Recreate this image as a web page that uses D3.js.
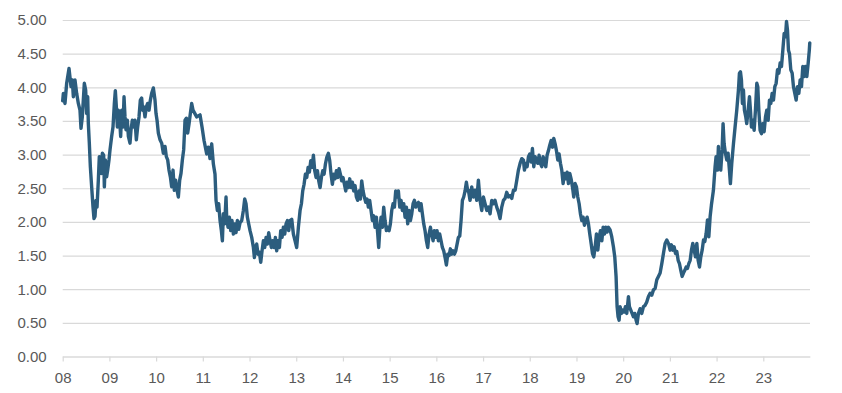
<!DOCTYPE html>
<html>
<head>
<meta charset="utf-8">
<script src="https://cdn.jsdelivr.net/npm/d3@7"></script>
<style>
  html, body { margin: 0; padding: 0; background: #ffffff; }
  svg { display: block; }
  text { font-family: "Liberation Sans", Arial, sans-serif; }
</style>
</head>
<body>
<div id="chart"></div>
<script>
// ---- data ----
const xTickYears = [2008, 2009, 2010, 2011, 2012, 2013, 2014, 2015, 2016, 2017, 2018, 2019, 2020, 2021, 2022, 2023];
const xTickLabels = ["08", "09", "10", "11", "12", "13", "14", "15", "16", "17", "18", "19", "20", "21", "22", "23"];
const yTicks = [0, 0.5, 1, 1.5, 2, 2.5, 3, 3.5, 4, 4.5, 5];
const yTickLabels = ["0.00", "0.50", "1.00", "1.50", "2.00", "2.50", "3.00", "3.50", "4.00", "4.50", "5.00"];

const years = [
2008.000,2008.014,2008.049,2008.085,2008.135,2008.178,2008.206,2008.228,2008.263,2008.299,2008.335,2008.370,2008.392,2008.420,2008.463,2008.492,2008.513,2008.535,2008.549,2008.570,
2008.592,2008.620,2008.649,2008.670,2008.692,2008.713,2008.735,2008.763,2008.784,2008.806,2008.827,2008.849,2008.877,2008.892,2008.913,2008.941,2008.963,2008.991,
2009.013,2009.048,2009.077,2009.106,2009.127,2009.149,2009.170,2009.191,2009.220,2009.241,2009.263,2009.291,2009.313,2009.334,2009.355,2009.384,2009.406,2009.441,2009.463,2009.491,
2009.520,2009.548,2009.577,2009.605,2009.634,2009.662,2009.691,2009.712,2009.734,2009.762,2009.791,2009.819,2009.848,2009.877,2009.905,2009.941,2009.976,2009.998,
2010.020,2010.048,2010.084,2010.120,2010.155,2010.191,2010.219,2010.248,2010.276,2010.305,2010.333,2010.362,2010.390,2010.419,2010.448,2010.476,2010.505,2010.533,2010.562,2010.590,
2010.619,2010.648,2010.676,2010.705,2010.733,2010.762,2010.790,2010.869,2010.940,2010.983,
2011.026,2011.083,2011.118,2011.154,2011.190,2011.226,2011.261,2011.283,2011.312,2011.340,2011.369,2011.397,2011.419,2011.440,2011.468,2011.497,2011.511,2011.540,2011.568,2011.597,
2011.625,2011.654,2011.683,2011.711,2011.740,2011.768,2011.797,2011.833,2011.868,2011.897,2011.925,2011.954,2011.982,
2012.011,2012.047,2012.083,2012.104,2012.125,2012.154,2012.182,2012.211,2012.240,2012.268,2012.297,2012.325,2012.354,2012.382,2012.411,2012.440,2012.468,2012.497,2012.525,2012.554,
2012.582,2012.611,2012.640,2012.668,2012.697,2012.725,2012.754,2012.782,2012.811,2012.840,2012.868,2012.904,2012.939,2012.975,
2013.010,2013.046,2013.082,2013.111,2013.139,2013.168,2013.196,2013.225,2013.254,2013.282,2013.311,2013.339,2013.368,2013.396,2013.425,2013.454,2013.482,2013.511,2013.539,2013.568,
2013.597,2013.625,2013.654,2013.688,2013.717,2013.745,2013.774,2013.803,2013.831,2013.860,2013.888,2013.917,2013.945,2013.974,
2014.002,2014.031,2014.060,2014.088,2014.117,2014.145,2014.174,2014.202,2014.231,2014.259,2014.288,2014.316,2014.345,2014.374,2014.402,2014.431,2014.459,2014.488,2014.516,2014.545,
2014.573,2014.602,2014.631,2014.659,2014.688,2014.716,2014.745,2014.766,2014.788,2014.816,2014.845,2014.873,2014.902,2014.931,2014.959,2014.988,
2015.016,2015.045,2015.073,2015.102,2015.130,2015.159,2015.187,2015.216,2015.245,2015.273,2015.302,2015.330,2015.359,2015.387,2015.416,2015.444,2015.473,2015.502,2015.530,2015.559,
2015.587,2015.616,2015.644,2015.673,2015.701,2015.730,2015.758,2015.787,2015.815,2015.844,2015.873,2015.901,2015.930,2015.958,2015.987,
2016.015,2016.044,2016.072,2016.101,2016.129,2016.158,2016.187,2016.215,2016.244,2016.272,2016.301,2016.329,2016.358,2016.387,2016.415,2016.444,2016.472,2016.501,2016.529,2016.558,
2016.586,2016.615,2016.643,2016.672,2016.686,2016.722,2016.757,2016.793,2016.829,2016.865,2016.900,2016.936,2016.972,
2017.007,2017.043,2017.079,2017.115,2017.150,2017.186,2017.222,2017.257,2017.293,2017.329,2017.364,2017.400,2017.436,2017.472,2017.507,2017.543,2017.579,2017.615,2017.650,2017.686,
2017.722,2017.757,2017.793,2017.829,2017.864,2017.886,2017.915,2017.943,2017.972,
2018.000,2018.029,2018.057,2018.086,2018.114,2018.143,2018.171,2018.200,2018.229,2018.257,2018.286,2018.314,2018.343,2018.371,2018.400,2018.428,2018.457,2018.486,2018.514,2018.543,
2018.571,2018.600,2018.628,2018.657,2018.685,2018.714,2018.743,2018.771,2018.800,2018.828,2018.857,2018.885,2018.914,2018.942,2018.971,
2019.000,2019.028,2019.057,2019.085,2019.114,2019.143,2019.171,2019.200,2019.228,2019.257,2019.285,2019.314,2019.343,2019.371,2019.400,2019.428,2019.457,2019.485,2019.514,2019.543,
2019.571,2019.600,2019.628,2019.657,2019.685,2019.720,2019.755,2019.791,2019.820,2019.848,2019.870,2019.891,2019.913,2019.934,2019.963,2019.991,
2020.020,2020.048,2020.077,2020.113,2020.134,2020.163,2020.191,2020.220,2020.248,2020.277,2020.298,2020.327,2020.362,2020.398,2020.434,2020.470,2020.505,2020.541,2020.577,2020.612,
2020.648,2020.684,2020.720,2020.755,2020.791,2020.827,2020.862,2020.898,2020.934,2020.970,
2021.005,2021.034,2021.062,2021.091,2021.120,2021.148,2021.177,2021.205,2021.234,2021.262,2021.291,2021.320,2021.348,2021.377,2021.405,2021.434,2021.462,2021.491,2021.520,2021.548,
2021.577,2021.605,2021.634,2021.662,2021.691,2021.720,2021.748,2021.777,2021.805,2021.834,2021.862,2021.889,2021.932,2021.968,2021.989,
2022.018,2022.039,2022.061,2022.089,2022.118,2022.139,2022.161,2022.189,2022.218,2022.246,2022.275,2022.296,2022.325,2022.361,2022.396,2022.432,2022.468,2022.489,2022.511,2022.532,
2022.553,2022.575,2022.596,2022.625,2022.646,2022.675,2022.704,2022.725,2022.746,2022.775,2022.804,2022.832,2022.861,2022.882,2022.904,2022.932,2022.961,2022.989,
2023.018,2023.047,2023.075,2023.104,2023.132,2023.161,2023.189,2023.218,2023.247,2023.275,2023.304,2023.332,2023.361,2023.390,2023.418,2023.447,2023.475,2023.497,2023.518,2023.539,
2023.561,2023.589,2023.618,2023.646,2023.675,2023.704,2023.732,2023.761,2023.789,2023.818,2023.846,2023.875,2023.904,2023.932,2023.961,2023.985,2023.995
];

const yields = [
3.80,3.91,3.76,4.06,4.28,4.01,4.11,3.86,4.11,3.91,3.76,3.66,3.39,3.56,4.06,3.96,3.61,3.86,3.46,3.17,
2.82,2.52,2.22,2.05,2.08,2.32,2.22,2.62,2.97,2.92,2.72,3.02,2.99,2.52,2.92,2.67,2.77,2.92,
3.07,3.27,3.41,3.76,3.95,3.71,3.41,3.66,3.51,3.27,3.66,3.41,3.86,3.56,3.37,3.51,3.27,3.17,3.37,3.51,
3.41,3.51,3.22,3.41,3.56,3.81,3.84,3.66,3.71,3.56,3.71,3.76,3.66,3.81,3.91,3.99,3.81,3.61,
3.51,3.32,3.22,3.17,3.02,3.12,2.97,2.92,2.77,2.67,2.52,2.77,2.47,2.62,2.47,2.37,2.62,2.72,2.92,3.07,
3.51,3.54,3.32,3.46,3.61,3.76,3.66,3.56,3.59,3.41,
3.21,3.01,3.11,2.94,3.16,2.86,2.71,2.32,2.17,2.27,2.02,1.87,1.72,2.12,1.97,2.37,2.07,1.92,2.07,1.87,
2.02,1.82,1.97,1.84,2.02,1.89,1.99,2.02,2.17,2.34,2.27,2.07,1.97,
1.87,1.77,1.62,1.47,1.62,1.67,1.52,1.55,1.40,1.57,1.72,1.62,1.77,1.67,1.84,1.72,1.62,1.72,1.62,1.77,
1.57,1.72,1.62,1.87,1.77,1.92,1.82,1.97,2.02,1.87,2.02,2.04,1.82,1.72,
1.62,1.92,2.17,2.27,2.46,2.56,2.71,2.66,2.81,2.74,2.91,2.81,2.99,2.76,2.66,2.76,2.61,2.51,2.66,2.76,
2.71,2.86,2.96,3.02,2.91,2.71,2.56,2.71,2.64,2.76,2.66,2.79,2.71,2.61,
2.66,2.56,2.46,2.59,2.51,2.64,2.51,2.59,2.46,2.54,2.37,2.32,2.46,2.34,2.61,2.46,2.37,2.29,2.34,2.22,
2.32,2.17,2.02,2.09,1.92,2.07,1.82,1.62,1.87,2.07,1.92,2.22,2.02,1.87,1.92,1.87,
1.97,2.17,2.27,2.22,2.46,2.37,2.46,2.22,2.32,2.17,2.27,2.07,2.22,1.97,2.17,2.02,2.12,2.27,2.32,2.22,
2.27,2.29,2.17,2.27,2.12,1.97,1.87,1.72,1.62,1.82,1.92,1.82,1.72,1.87,1.77,
1.87,1.72,1.82,1.72,1.62,1.57,1.47,1.36,1.52,1.50,1.60,1.52,1.57,1.52,1.57,1.67,1.77,1.79,2.02,2.32,
2.37,2.46,2.59,2.46,2.47,2.32,2.52,2.37,2.47,2.32,2.62,2.32,2.17,
2.37,2.27,2.17,2.22,2.12,2.32,2.27,2.32,2.22,2.15,2.05,2.22,2.32,2.35,2.44,2.37,2.39,2.35,2.47,2.47,
2.62,2.77,2.87,2.94,2.92,2.77,2.87,2.82,2.97,
3.01,2.89,3.09,2.82,2.97,2.92,2.87,2.99,2.87,2.82,2.97,2.89,2.82,2.99,3.06,3.14,3.21,3.11,3.24,3.16,
3.06,2.92,3.01,2.87,2.77,2.57,2.72,2.64,2.74,2.57,2.72,2.64,2.52,2.37,2.57,
2.52,2.37,2.27,2.12,2.02,2.07,1.95,2.02,2.07,1.97,1.82,1.68,1.53,1.48,1.63,1.82,1.58,1.77,1.87,1.72,
1.92,1.82,1.92,1.85,1.92,1.88,1.78,1.63,1.48,1.19,0.74,0.59,0.54,0.74,0.64,0.69,
0.66,0.74,0.64,0.89,0.74,0.69,0.64,0.59,0.64,0.54,0.49,0.64,0.71,0.64,0.74,0.76,0.81,0.89,0.94,0.91,
0.99,1.01,1.14,1.19,1.24,1.38,1.53,1.68,1.73,1.68,
1.58,1.66,1.58,1.63,1.53,1.56,1.43,1.38,1.28,1.19,1.24,1.28,1.33,1.31,1.38,1.43,1.58,1.68,1.58,1.48,
1.68,1.43,1.33,1.48,1.58,1.73,1.71,1.83,2.03,1.78,2.08,2.25,2.47,2.82,2.97,
2.77,3.12,2.82,2.77,3.07,3.46,3.16,3.02,2.92,3.02,2.77,2.57,2.87,3.16,3.41,3.66,3.96,4.21,4.23,4.11,
3.76,3.96,3.66,3.56,3.46,3.66,3.86,3.66,3.41,3.51,3.36,3.66,4.06,4.01,3.66,3.36,3.31,3.46,
3.34,3.56,3.66,3.51,3.81,3.76,3.91,3.81,4.01,4.06,4.26,4.21,4.36,4.31,4.55,4.80,4.75,4.98,4.85,4.55,
4.50,4.26,4.21,4.01,3.91,3.81,4.01,3.91,4.11,4.01,4.31,4.16,4.31,4.16,4.36,4.55,4.66
];

// ---- layout ----
const W = 842, H = 393;
const margin = { left: 62.7, right: 32, top: 20, bottom: 36.5 };
const innerW = W - margin.left - margin.right;
const innerH = H - margin.top - margin.bottom;

const lineColor = "#2c5d7e";
const gridColor = "#d9d9d9";
const textColor = "#595959";

const svg = d3.select("#chart").append("svg")
  .attr("width", W).attr("height", H)
  .style("background", "#ffffff");

const g = svg.append("g").attr("transform", `translate(${margin.left},${margin.top})`);

const x = d3.scaleLinear().domain([2008, 2024]).range([0, innerW]);
const y = d3.scaleLinear().domain([0, 5]).range([innerH, 0]);

// y grid + labels
const yAxis = d3.axisLeft(y)
  .tickValues(yTicks)
  .tickFormat((d, i) => yTickLabels[i])
  .tickSize(-innerW)
  .tickPadding(16);
const yg = g.append("g").call(yAxis);
yg.select(".domain").remove();
yg.selectAll(".tick line").attr("stroke", gridColor).attr("stroke-width", 1.2);
yg.selectAll(".tick text")
  .attr("fill", textColor)
  .style("font-size", "15px");

// x axis
const xAxis = d3.axisBottom(x)
  .tickValues(xTickYears)
  .tickFormat((d, i) => xTickLabels[i])
  .tickSize(5)
  .tickSizeOuter(0)
  .tickPadding(11);
const xg = g.append("g").attr("transform", `translate(0,${innerH})`).call(xAxis);
xg.select(".domain").attr("stroke", gridColor).attr("stroke-width", 1.2);
xg.selectAll(".tick line").attr("stroke", gridColor).attr("stroke-width", 1.2);
xg.selectAll(".tick text")
  .attr("fill", textColor)
  .style("font-size", "15px");

// line
const data = years.map((t, i) => ({ t, v: yields[i] }));
const line = d3.line().x(d => x(d.t)).y(d => y(d.v));
g.append("path")
  .datum(data)
  .attr("fill", "none")
  .attr("stroke", lineColor)
  .attr("stroke-width", 3.4)
  .attr("stroke-linejoin", "round")
  .attr("stroke-linecap", "round")
  .attr("d", line);
</script>
</body>
</html>
